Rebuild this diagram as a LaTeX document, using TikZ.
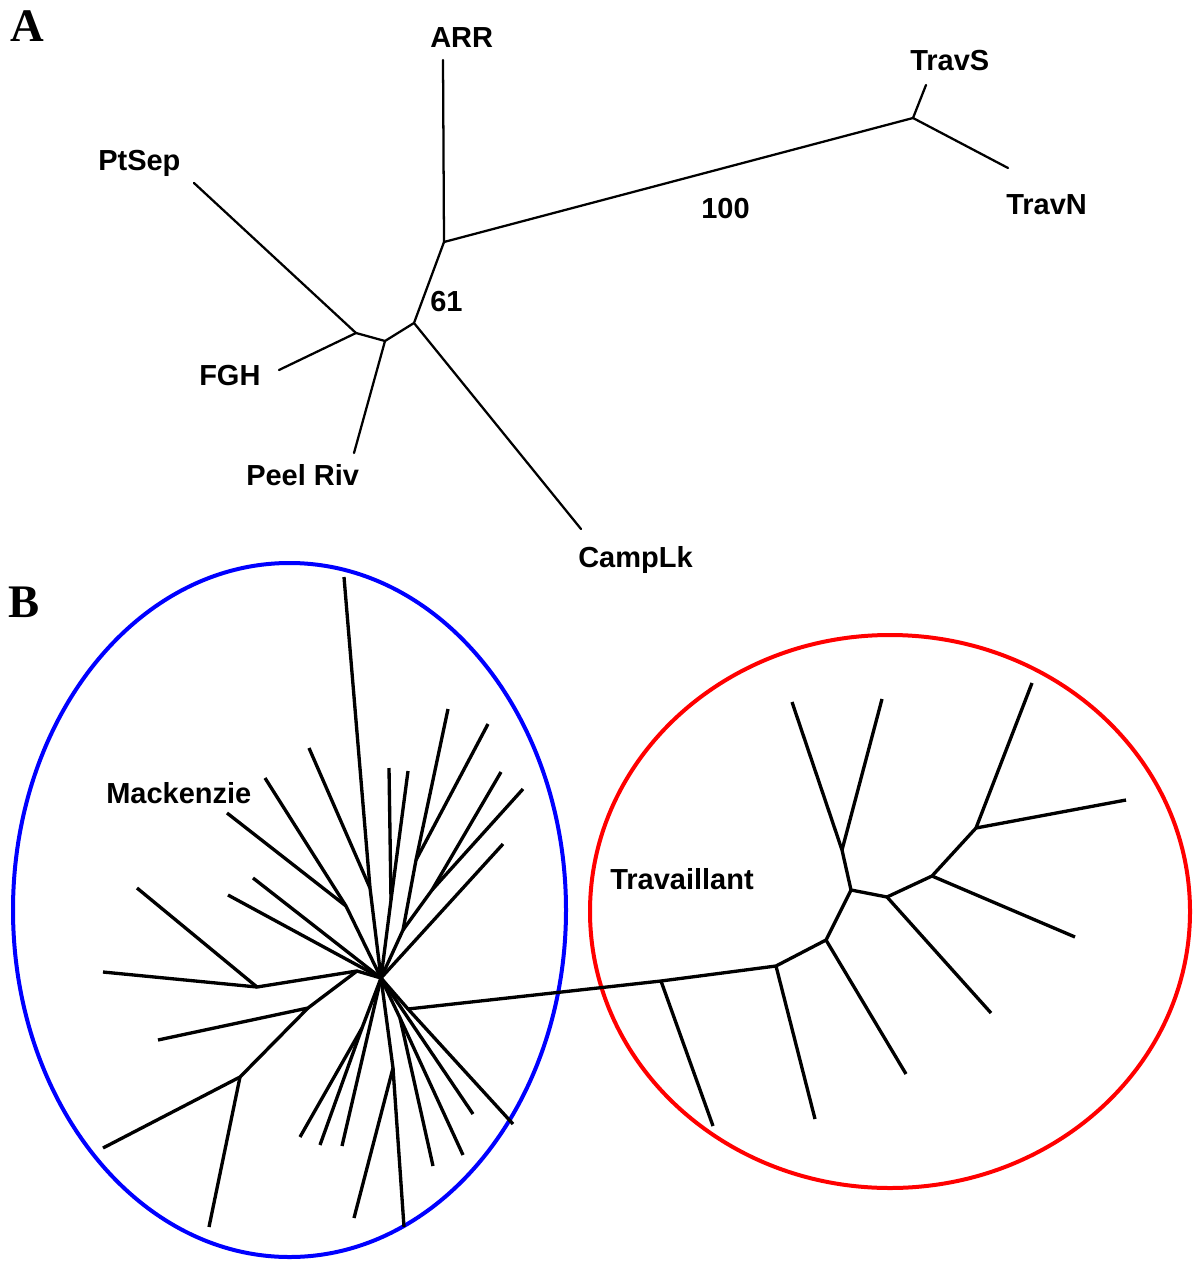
\documentclass[tikz,border=0pt]{standalone}
\usepackage{fontspec}
\setmainfont{Liberation Sans}
\newfontfamily\panelfont{Liberation Serif}
\definecolor{ringblue}{RGB}{0,0,255}
\definecolor{ringred}{RGB}{255,0,0}
\begin{document}
\begin{tikzpicture}[x=0.75pt,y=-0.75pt,
  lbl/.style={font=\fontsize{21.75}{26}\selectfont\bfseries, inner sep=0pt, anchor=base west},
  panel/.style={font=\panelfont\fontsize{35}{40}\selectfont\bfseries, inner sep=0pt, anchor=base west},
  brA/.style={line width=1.7pt, line cap=round, line join=round},
  brB/.style={line width=2.5pt, line cap=butt, line join=round},
  ring/.style={line width=3pt}
]
\useasboundingbox (0,0) rectangle (1192,1262);

% ---------------- Panel A ----------------
\node[panel] (pA) at (10,42) {A};
\coordinate (J1) at (444,242);
\coordinate (J2) at (913,118);
\coordinate (J3) at (414,323);
\coordinate (J4) at (385,341);
\coordinate (J5) at (356,333);
\coordinate (ARRe) at (443,60);
\coordinate (TravSe) at (926,85);
\coordinate (TravNe) at (1008,168);
\coordinate (CampLke) at (581,529);
\coordinate (Peele) at (354,453);
\coordinate (PtSepe) at (194,183);
\coordinate (FGHe) at (279,370);

\draw[brA] (ARRe) -- (J1) -- (J2) -- (TravSe);
\draw[brA] (J2) -- (TravNe);
\draw[brA] (J1) -- (J3) -- (CampLke);
\draw[brA] (J3) -- (J4) -- (Peele);
\draw[brA] (J4) -- (J5) -- (PtSepe);
\draw[brA] (J5) -- (FGHe);

\node[lbl] (ARR) at (430,48) {ARR};
\node[lbl] (TravS) at (910,71) {TravS};
\node[lbl] (TravN) at (1006,215) {TravN};
\node[lbl] (b100) at (701,219) {100};
\node[lbl] (b61) at (430,311) {61};
\node[lbl] (PtSep) at (98,171) {PtSep};
\node[lbl] (FGH) at (199,385) {FGH};
\node[lbl] (Peel) at (246,485) {Peel Riv};
\node[lbl] (CampLk) at (578,567) {CampLk};

% ---------------- Panel B ----------------
\node[panel] (pB) at (8,617) {B};
\draw[ring, ringblue] (289.5,910) ellipse [x radius=276.5, y radius=347];
\draw[ring, ringred] (890,911.5) ellipse [x radius=300, y radius=276.5];

\node[lbl] (Mack) at (106,803) {Mackenzie};
\node[lbl] (Trav) at (610,889) {Travaillant};

% Mackenzie tree
\coordinate (H) at (381,978);
\coordinate (M1) at (370,888);
\coordinate (M2) at (346,906);
\coordinate (M3) at (391,900);
\coordinate (M4) at (416,860);
\coordinate (M5) at (432,890);
\coordinate (M6) at (403,930);
\coordinate (N1) at (357,971);
\coordinate (M7) at (257,987);
\coordinate (M8) at (240,1077);
\coordinate (M9) at (308,1008);
\coordinate (M10) at (400,1018);
\coordinate (M11) at (362,1028);
\coordinate (M12) at (393,1068);
\coordinate (K) at (408,1009);

\coordinate (L1) at (344,577);
\coordinate (L2) at (309,748);
\coordinate (L3) at (265,778);
\coordinate (L4) at (227,813);
\coordinate (L5) at (253,878);
\coordinate (L6) at (228,895);
\coordinate (L7) at (389,768);
\coordinate (L8) at (408,771);
\coordinate (L9) at (448,709);
\coordinate (L10) at (488,724);
\coordinate (L11) at (501,772);
\coordinate (L12) at (523,789);
\coordinate (L13) at (503,844);
\coordinate (L14) at (137,888);
\coordinate (L15) at (103,972);
\coordinate (L16) at (158,1040);
\coordinate (L17) at (103,1148);
\coordinate (L18) at (209,1227);
\coordinate (L19) at (300,1137);
\coordinate (L20) at (320,1145);
\coordinate (L21) at (342,1146);
\coordinate (L22) at (354,1218);
\coordinate (L23) at (404,1227);
\coordinate (L24) at (433,1166);
\coordinate (L25) at (463,1155);
\coordinate (L26) at (473,1114);
\coordinate (L27) at (513,1124);

\draw[brB] (L1) -- (M1) -- (H);
\draw[brB] (L2) -- (M1);
\draw[brB] (L3) -- (M2) -- (H);
\draw[brB] (L4) -- (M2);
\draw[brB] (L5) -- (H);
\draw[brB] (L6) -- (H);
\draw[brB] (L7) -- (M3) -- (H);
\draw[brB] (L8) -- (M3);
\draw[brB] (L9) -- (M4) -- (M6) -- (H);
\draw[brB] (L10) -- (M4);
\draw[brB] (L11) -- (M5) -- (M6);
\draw[brB] (L12) -- (M5);
\draw[brB] (L13) -- (H);
\draw[brB] (L14) -- (M7) -- (N1) -- (H);
\draw[brB] (L15) -- (M7);
\draw[brB] (L16) -- (M9) -- (N1);
\draw[brB] (L17) -- (M8) -- (M9);
\draw[brB] (L18) -- (M8);
\draw[brB] (L19) -- (M11) -- (H);
\draw[brB] (L20) -- (M11);
\draw[brB] (L21) -- (H);
\draw[brB] (L22) -- (M12) -- (H);
\draw[brB] (L23) -- (M12);
\draw[brB] (L24) -- (M10) -- (H);
\draw[brB] (L25) -- (M10);
\draw[brB] (L26) -- (H);
\draw[brB] (L27) -- (K) -- (H);

% Travaillant tree
\coordinate (T1) at (661,981);
\coordinate (T2) at (776,966);
\coordinate (T3) at (826,940);
\coordinate (T4) at (851,890);
\coordinate (T5) at (842,850);
\coordinate (T6) at (887,897);
\coordinate (T7) at (932,876);
\coordinate (T8) at (976,828);
\coordinate (R1) at (713,1126);
\coordinate (R2) at (815,1119);
\coordinate (R3) at (906,1074);
\coordinate (R4) at (792,702);
\coordinate (R5) at (882,699);
\coordinate (R6) at (991,1013);
\coordinate (R7) at (1075,937);
\coordinate (R8) at (1032,683);
\coordinate (R9) at (1126,800);

\draw[brB] (K) -- (T1) -- (T2) -- (T3) -- (T4) -- (T5) -- (R4);
\draw[brB] (T5) -- (R5);
\draw[brB] (T4) -- (T6) -- (T7) -- (T8) -- (R8);
\draw[brB] (T8) -- (R9);
\draw[brB] (T7) -- (R7);
\draw[brB] (T6) -- (R6);
\draw[brB] (T3) -- (R3);
\draw[brB] (T2) -- (R2);
\draw[brB] (T1) -- (R1);
\end{tikzpicture}
\end{document}
